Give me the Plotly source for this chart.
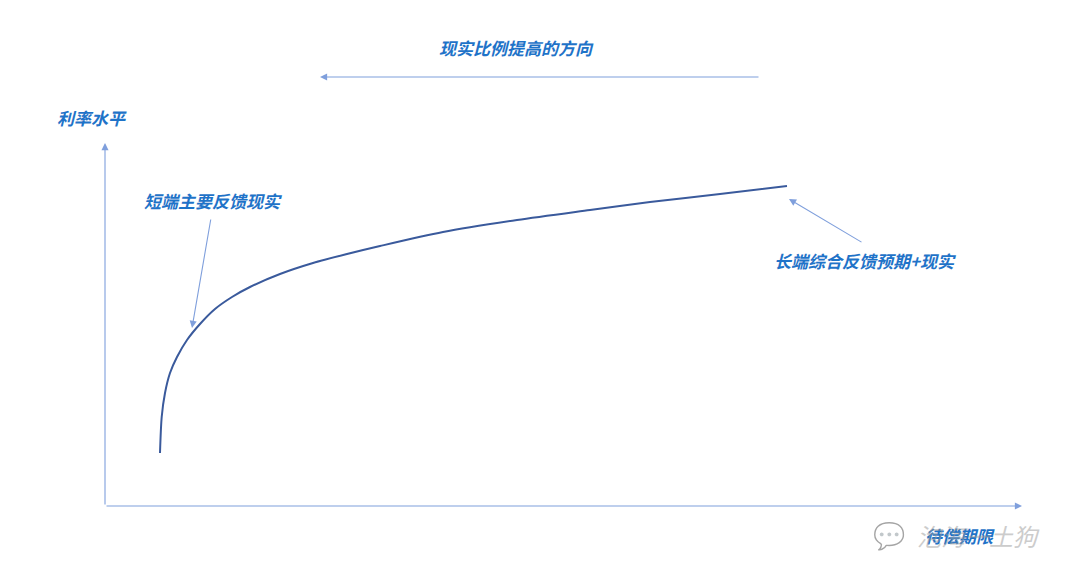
import plotly.graph_objects as go

# Conceptual yield curve (maturity vs. rate level, arbitrary units)
maturity = [0.55, 0.567, 0.60, 0.65, 0.72, 0.82, 0.95, 1.10, 1.27, 1.45, 1.75,
            2.08, 2.42, 2.75, 3.38, 4.12, 4.85, 5.45, 6.15, 6.82]
rate = [0.53, 0.89, 1.13, 1.33, 1.49, 1.66, 1.82, 1.97, 2.09, 2.19, 2.32,
        2.43, 2.52, 2.60, 2.74, 2.86, 2.96, 3.04, 3.12, 3.20]

y_label = "利率水平"
x_label = "待偿期限"
top_label = "现实比例提高的方向"
short_label = "短端主要反馈现实"
long_label = "长端综合反馈预期+现实"
watermark = "泡海一土狗"

TXT = "#1f73c8"
AX = "#7f9fdc"
FONT = "Noto Sans CJK SC"

fig = go.Figure()
fig.add_trace(go.Scatter(x=maturity, y=rate, mode="lines",
                         line=dict(color="#3a5a9c", width=2, shape="spline", smoothing=0.8),
                         hoverinfo="skip", showlegend=False))

def arrow(x, y, ax, ay, color=AX):
    return dict(x=x, y=y, ax=ax, ay=ay, xref="x", yref="y", axref="x", ayref="y",
                text="", showarrow=True, arrowhead=2, arrowsize=1.3, arrowwidth=1.1,
                arrowcolor=color)

def label(x, y, text, size=17, color=TXT):
    return dict(x=x, y=y, xref="x", yref="y", text=text, showarrow=False,
                font=dict(family=FONT, size=size, color=color, style="italic", weight="bold"))

annotations = [
    arrow(9.17, 0, 0, 0),
    arrow(0, 3.63, 0, 0),
    arrow(2.15, 4.29, 6.55, 4.29),
    arrow(0.87, 1.78, 1.06, 2.88),
    arrow(6.84, 3.07, 7.58, 2.63),
    label(4.11, 4.59, top_label),
    label(-0.13, 3.89, y_label),
    label(1.08, 3.06, short_label),
    label(7.60, 2.46, long_label),
    label(8.55, -0.29, x_label),
    dict(x=8.10, y=-0.29, xref="x", yref="y", text=watermark, showarrow=False,
         xanchor="left", opacity=0.5,
         font=dict(family=FONT, size=24, color="#9a9a9a", style="italic")),
    dict(x=7.84, y=-0.29, xref="x", yref="y", text="💬", showarrow=False,
         opacity=0.35, font=dict(size=26, color="#9a9a9a")),
]

fig.update_layout(
    width=1080, height=582,
    margin=dict(l=0, r=0, t=0, b=0),
    paper_bgcolor="white", plot_bgcolor="white",
    xaxis=dict(range=[-0.97, 9.83], visible=False, fixedrange=True),
    yaxis=dict(range=[-0.84, 4.98], visible=False, fixedrange=True),
    annotations=annotations,
    showlegend=False,
)

fig.write_html("out.html")
